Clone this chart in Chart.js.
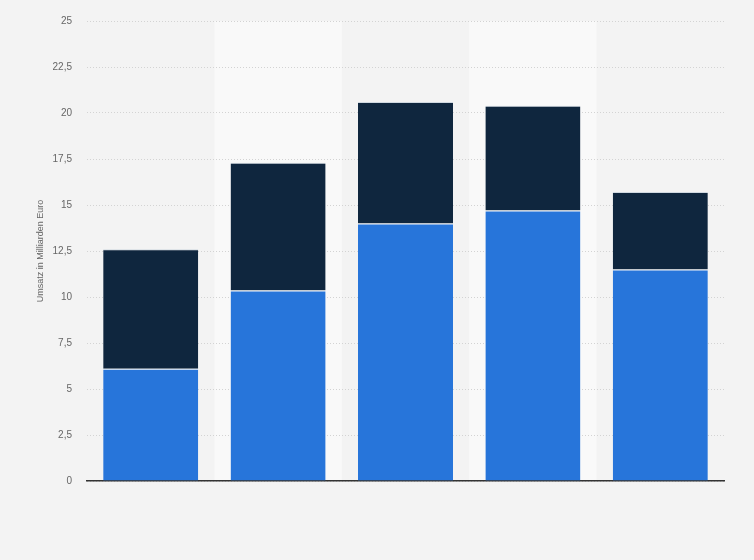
<!DOCTYPE html>
<html><head><meta charset="utf-8">
<script src="https://cdn.jsdelivr.net/npm/chart.js@4/dist/chart.umd.min.js"></script>
<style>html,body{margin:0;padding:0;background:#f3f3f3;}#wrap{width:754px;height:560px;}</style>
</head><body><div id="wrap"><canvas id="c" width="754" height="560"></canvas></div>
<script>
const categories = ["1", "2", "3", "4", "5"];
const seriesBottom = [6.1, 10.35, 14.0, 14.7, 11.5];
const seriesTop = [6.5, 6.95, 6.6, 5.7, 4.2];
const yTicks = [0, 2.5, 5, 7.5, 10, 12.5, 15, 17.5, 20, 22.5, 25];
const yTitle = "Umsatz in Milliarden Euro";

const bgPlugin = {
  id: 'bg',
  beforeDraw(chart) {
    const {ctx, chartArea, scales} = chart;
    ctx.save();
    ctx.fillStyle = '#f3f3f3';
    ctx.fillRect(0, 0, chart.width, chart.height);
    const x = scales.x;
    const w = (chartArea.right - chartArea.left) / categories.length;
    ctx.fillStyle = '#f9f9f9';
    categories.forEach((c, i) => {
      if (i % 2 === 1) {
        const cx = x.getPixelForValue(i);
        ctx.fillRect(cx - w / 2, chartArea.top, w, chartArea.bottom - chartArea.top);
      }
    });
    ctx.restore();
  }
};

new Chart(document.getElementById('c'), {
  type: 'bar',
  data: {
    labels: categories,
    datasets: [
      { data: seriesBottom, backgroundColor: '#2775da', borderColor: 'rgba(255,255,255,0.6)', borderWidth: {top: 1, left: 0, right: 0, bottom: 0}, borderSkipped: false },
      { data: seriesTop, backgroundColor: '#0f263e', borderColor: 'rgba(200,210,220,0.8)', borderWidth: {top: 1, left: 0, right: 0, bottom: 0}, borderSkipped: false }
    ]
  },
  options: {
    responsive: false,
    animation: false,
    devicePixelRatio: 1,
    layout: { padding: { top: 21, right: 30, bottom: 79, left: 0 } },
    plugins: { legend: { display: false }, tooltip: { enabled: false } },
    datasets: { bar: { barPercentage: 0.746, categoryPercentage: 1 } },
    scales: {
      x: {
        stacked: true,
        grid: { display: false, drawTicks: false },
        ticks: { display: false },
        border: { display: true, color: '#333333', width: 1.5 },
        afterFit(s) { s.height = 0; }
      },
      y: {
        stacked: true,
        min: 0, max: 25,
        afterBuildTicks(s) { s.ticks = yTicks.map(v => ({ value: v })); },
        grid: { color: '#d3d3d3', drawTicks: false, lineWidth: 1 },
        border: { display: false, dash: [1, 2] },
        ticks: {
          padding: 15,
          color: '#666666',
          font: { family: 'Liberation Sans', size: 10 },
          callback: v => String(v).replace('.', ',')
        },
        title: {
          display: true, text: yTitle, color: '#666666',
          font: { family: 'Liberation Sans', size: 9 },
          padding: { top: 35, bottom: 0 }
        },
        afterFit(s) { s.width = 87; }
      }
    }
  },
  plugins: [bgPlugin]
});
</script></body></html>
